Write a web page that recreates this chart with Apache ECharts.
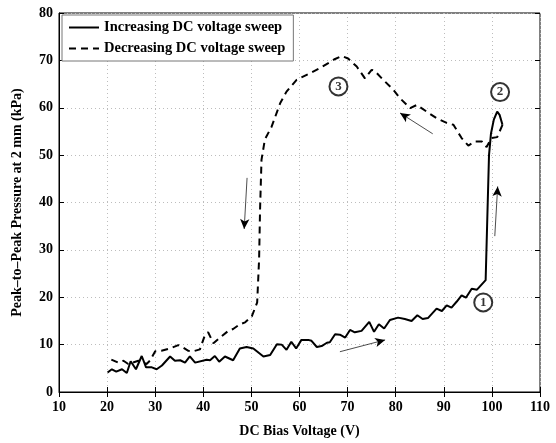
<!DOCTYPE html>
<html><head><meta charset="utf-8">
<script src="https://cdn.jsdelivr.net/npm/echarts@6/dist/echarts.min.js"></script>
<style>html,body{margin:0;padding:0;background:#fff}#c{width:556px;height:443px}</style>
</head><body><div id="c"></div>
<script>
// Increasing DC voltage sweep [V, kPa]
const increasing = [[20.1,4.1],[21,4.8],[21.9,4.3],[23.1,4.8],[24.1,4.0],[24.9,6.5],[26,4.8],[27.2,7.6],[28.1,5.2],[29.3,5.2],[30.3,4.8],[31.4,5.6],[33.1,7.5],[34.1,6.6],[35.2,6.7],[36.2,6.2],[37.2,7.5],[38.3,6.2],[40.7,6.8],[41.4,6.7],[42.4,7.6],[43.3,6.4],[44.5,7.5],[46.2,6.7],[47.6,9.2],[49,9.5],[50.4,9.2],[52.5,7.5],[53.9,7.8],[55.3,10.1],[56.3,10],[57.3,8.9],[58.3,10.6],[59.3,9.2],[60.4,11],[61.8,11],[62.5,10.8],[63.6,9.5],[64.6,9.7],[65.7,10.4],[66.3,10.5],[67.4,12.2],[68.4,12.1],[69.5,11.5],[70.5,13.1],[71.5,12.6],[72.9,12.9],[74.5,14.8],[75.5,12.7],[76.5,14.3],[77.6,13.4],[78.8,15.2],[80.5,15.7],[81.9,15.4],[83.3,15.0],[84.5,16.2],[85.6,15.4],[86.7,15.6],[88.5,17.6],[89.6,17.1],[90.6,18.3],[91.6,17.8],[92.7,19.1],[93.7,20.4],[94.6,19.9],[95.8,21.8],[96.9,21.6],[98.7,23.6],[99.0,35],[99.4,50],[99.8,54.5],[100.4,57.5],[101.1,59.2],[101.6,58.5],[102.2,56.4]];
// Decreasing DC voltage sweep [V, kPa]
const decreasing = [[102.2,56.4],[101.1,53.8],[99.9,53.6],[98.9,51.7],[97.9,52.9],[96.5,52.9],[95.1,52.0],[93.7,53.6],[92.0,56.4],[90.6,56.8],[88.5,57.8],[86.4,59.2],[84.4,60.6],[83.0,59.9],[80.9,62.0],[79.5,63.8],[77.4,65.9],[75.6,67.8],[75.0,68.0],[73.6,66.2],[71.9,68.7],[70.1,70.4],[68.8,70.9],[67.4,70.3],[64.3,68.4],[62.2,67.3],[59.4,65.9],[57.3,63.4],[56,61],[54.2,56],[52.8,53.3],[52.1,49],[51.8,38.5],[51.6,28],[51.2,18.9],[50.1,16],[48.7,14.7],[47.6,14.3],[46.2,13.3],[45.2,12.9],[43.5,11.5],[42.1,10.3],[41,12.6],[40.3,11.9],[39.3,9],[37.9,8.6],[36.9,8.7],[35.8,9.4],[34.8,9.9],[33.1,9.2],[31.3,8.7],[30,8.6],[28.9,6.6],[28.2,5.9],[26.5,6.6],[24.4,5.9],[23.4,6.6],[22.3,6.2],[20.3,7.1]];
// circled stage labels [V, kPa, text]
const stages = [[98.2,18.9,'1'],[101.7,63.3,'2'],[68.1,64.5,'3']];
// arrows [tailV, tailP, headV, headP]
const arrows = [[68.4,8.5,77.8,11.0],[49.1,45.2,48.5,34.4],[87.7,54.5,80.9,58.9],[100.6,32.9,101.2,43.4]];
const seriesNames = ['Increasing DC voltage sweep','Decreasing DC voltage sweep'];
const xTitle = 'DC Bias Voltage (V)';
const yTitle = 'Peak\u2013to\u2013Peak Pressure at 2 mm (kPa)';

const FONT = 'Liberation Serif';
const chart = echarts.init(document.getElementById('c'));
const gridLine = {show:true, lineStyle:{color:'#bdbdbd', type:[1,3], width:1}};
chart.setOption({
  animation:false,
  backgroundColor:'#fff',
  grid:{left:59, right:16, top:13, bottom:50, show:true, borderColor:'#000', borderWidth:1, backgroundColor:'transparent'},
  legend:{
    left:62, top:15, orient:'vertical', itemWidth:30, itemHeight:10, itemGap:6,
    padding:[5,8,5,6], backgroundColor:'#fff', borderColor:'#777', borderWidth:1,
    itemStyle:{opacity:0},
    textStyle:{fontFamily:FONT, fontWeight:'bold', fontSize:14.5, color:'#000'},
    data:seriesNames
  },
  xAxis:[{
    type:'value', min:10, max:110, interval:10,
    name:xTitle, nameLocation:'middle', nameGap:32,
    nameTextStyle:{fontFamily:FONT, fontWeight:'bold', fontSize:14, color:'#000'},
    axisLine:{lineStyle:{color:'#000'}}, axisTick:{inside:true, length:5, lineStyle:{color:'#000'}},
    axisLabel:{fontFamily:FONT, fontWeight:'bold', fontSize:14, color:'#000', margin:8},
    splitLine:gridLine
  },{
    type:'value', min:10, max:110, interval:10, position:'top',
    axisLine:{show:false}, axisTick:{inside:true, length:5, lineStyle:{color:'#000'}},
    axisLabel:{show:false}, splitLine:{show:false}
  }],
  yAxis:[{
    type:'value', min:0, max:80, interval:10,
    name:yTitle, nameLocation:'middle', nameGap:35,
    nameTextStyle:{fontFamily:FONT, fontWeight:'bold', fontSize:14, color:'#000'},
    axisLine:{show:true, lineStyle:{color:'#000'}}, axisTick:{show:true, inside:true, length:5, lineStyle:{color:'#000'}},
    axisLabel:{fontFamily:FONT, fontWeight:'bold', fontSize:14, color:'#000', margin:6},
    splitLine:gridLine
  },{
    type:'value', min:0, max:80, interval:10, position:'right',
    axisLine:{show:false}, axisTick:{show:true, inside:true, length:5, lineStyle:{color:'#000'}},
    axisLabel:{show:false}, splitLine:{show:false}
  }],
  series:[
    {name:seriesNames[0], type:'line', data:increasing, symbol:'none', z:3,
     lineStyle:{color:'#000', width:2}, itemStyle:{color:'#000'}},
    {name:seriesNames[1], type:'line', data:decreasing, symbol:'none', z:3,
     lineStyle:{color:'#000', width:2, type:[7,5]}, itemStyle:{color:'#000'},
     markLine:{silent:true, symbol:['none','arrow'], symbolSize:[7,10], label:{show:false},
       lineStyle:{color:'#000', width:0.7, type:'solid'},
       data:arrows.map(a=>[{coord:[a[0],a[1]]},{coord:[a[2],a[3]]}])}},
    {name:'stages', type:'scatter', data:stages, symbol:'circle', symbolSize:18, z:5,
     itemStyle:{color:'#fff', borderColor:'#000', borderWidth:2},
     label:{show:true, position:'inside', formatter:p=>p.value[2], fontFamily:FONT, fontWeight:'bold', fontSize:13, color:'#000'}}
  ]
});
</script></body></html>
